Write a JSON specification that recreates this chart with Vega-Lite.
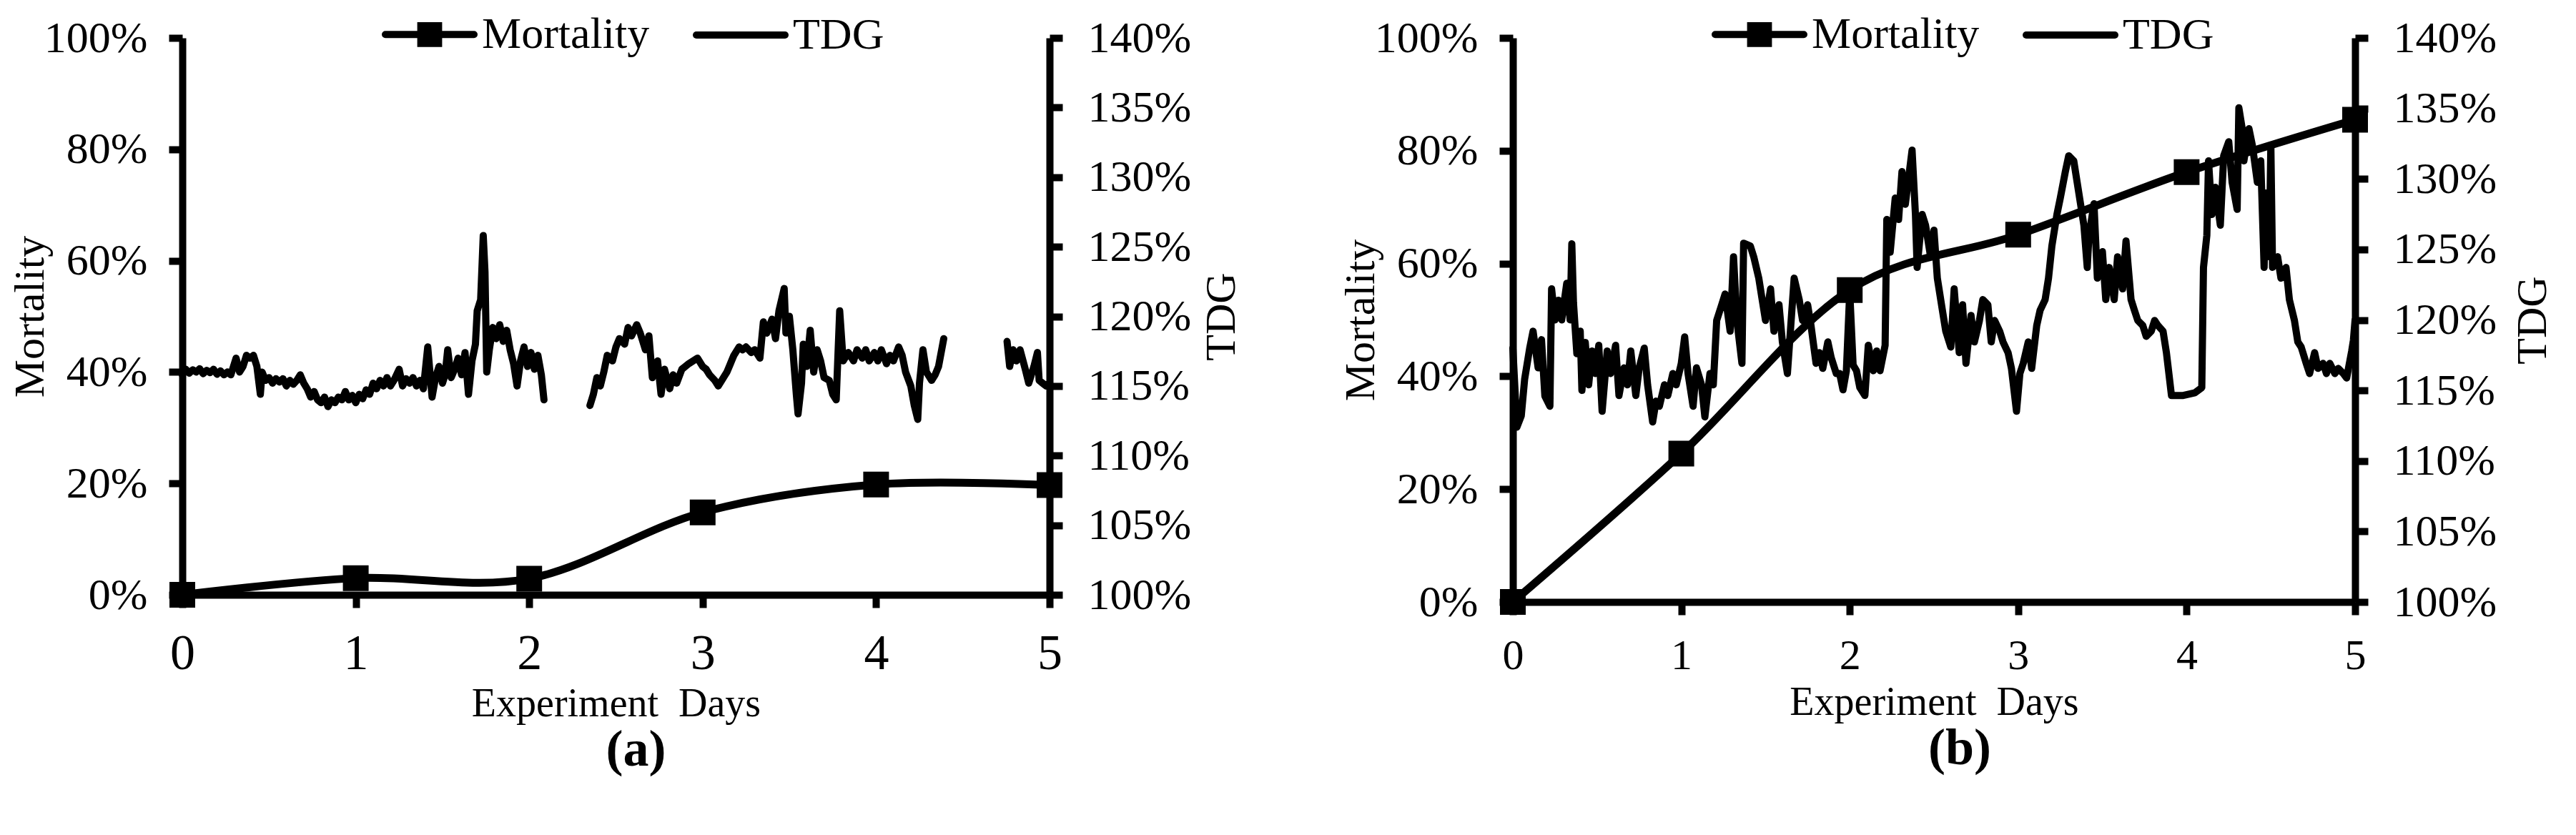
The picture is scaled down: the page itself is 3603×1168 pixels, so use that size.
{
  "$schema": "https://vega.github.io/schema/vega-lite/v6.json",
  "background": "white",
  "padding": {"left": 12, "top": 17, "right": 5, "bottom": 5},
  "bounds": "flush",
  "spacing": 648,
  "config": {
    "view": {"stroke": null},
    "font": "Liberation Serif",
    "axis": {"grid": false, "domainColor": "black", "domainWidth": 10, "tickColor": "black", "tickWidth": 10, "labelColor": "black", "titleColor": "black", "labelFont": "Liberation Serif", "titleFont": "Liberation Serif", "titleFontWeight": "normal", "labelFlush": false, "labelOverlap": false}
  },
  "resolve": {"scale": {"color": "independent"}, "legend": {"color": "independent"}},
  "datasets": {
    "mortA": [
      {"day": 0, "mort": 0}, {"day": 1, "mort": 0.03}, {"day": 2, "mort": 0.029},
      {"day": 3, "mort": 0.148}, {"day": 4, "mort": 0.198}, {"day": 5, "mort": 0.197}
    ],
    "mortB": [
      {"day": 0, "mort": 0}, {"day": 1, "mort": 0.263}, {"day": 2, "mort": 0.553},
      {"day": 3, "mort": 0.651}, {"day": 4, "mort": 0.762}, {"day": 5, "mort": 0.855}
    ],
    "tdgA": [
      {"day":0,"tdg":1.158,"seg":1},{"day":0.02,"tdg":1.162,"seg":1},{"day":0.04,"tdg":1.1592,"seg":1},{"day":0.06,"tdg":1.1616,"seg":1},{"day":0.08,"tdg":1.16,"seg":1},{"day":0.1,"tdg":1.1624,"seg":1},{"day":0.12,"tdg":1.1588,"seg":1},{"day":0.14,"tdg":1.1612,"seg":1},{"day":0.16,"tdg":1.1596,"seg":1},{"day":0.18,"tdg":1.162,"seg":1},{"day":0.2,"tdg":1.1584,"seg":1},{"day":0.22,"tdg":1.1608,"seg":1},{"day":0.24,"tdg":1.158,"seg":1},{"day":0.26,"tdg":1.16,"seg":1},{"day":0.28,"tdg":1.158,"seg":1},{"day":0.31,"tdg":1.17,"seg":1},{"day":0.33,"tdg":1.16,"seg":1},{"day":0.35,"tdg":1.164,"seg":1},{"day":0.37,"tdg":1.172,"seg":1},{"day":0.39,"tdg":1.17,"seg":1},{"day":0.41,"tdg":1.172,"seg":1},{"day":0.43,"tdg":1.164,"seg":1},{"day":0.45,"tdg":1.144,"seg":1},{"day":0.46,"tdg":1.16,"seg":1},{"day":0.48,"tdg":1.154,"seg":1},{"day":0.5,"tdg":1.156,"seg":1},{"day":0.52,"tdg":1.152,"seg":1},{"day":0.54,"tdg":1.1552,"seg":1},{"day":0.56,"tdg":1.1528,"seg":1},{"day":0.58,"tdg":1.1552,"seg":1},{"day":0.6,"tdg":1.15,"seg":1},{"day":0.62,"tdg":1.154,"seg":1},{"day":0.64,"tdg":1.1512,"seg":1},{"day":0.66,"tdg":1.154,"seg":1},{"day":0.68,"tdg":1.158,"seg":1},{"day":0.7,"tdg":1.152,"seg":1},{"day":0.72,"tdg":1.148,"seg":1},{"day":0.74,"tdg":1.142,"seg":1},{"day":0.76,"tdg":1.146,"seg":1},{"day":0.78,"tdg":1.14,"seg":1},{"day":0.8,"tdg":1.138,"seg":1},{"day":0.82,"tdg":1.142,"seg":1},{"day":0.84,"tdg":1.1352,"seg":1},{"day":0.86,"tdg":1.14,"seg":1},{"day":0.88,"tdg":1.138,"seg":1},{"day":0.9,"tdg":1.142,"seg":1},{"day":0.92,"tdg":1.14,"seg":1},{"day":0.94,"tdg":1.146,"seg":1},{"day":0.96,"tdg":1.14,"seg":1},{"day":0.98,"tdg":1.1432,"seg":1},{"day":1,"tdg":1.138,"seg":1},{"day":1.02,"tdg":1.144,"seg":1},{"day":1.04,"tdg":1.1408,"seg":1},{"day":1.06,"tdg":1.1472,"seg":1},{"day":1.08,"tdg":1.144,"seg":1},{"day":1.1,"tdg":1.152,"seg":1},{"day":1.12,"tdg":1.148,"seg":1},{"day":1.14,"tdg":1.154,"seg":1},{"day":1.16,"tdg":1.15,"seg":1},{"day":1.18,"tdg":1.156,"seg":1},{"day":1.2,"tdg":1.15,"seg":1},{"day":1.22,"tdg":1.154,"seg":1},{"day":1.25,"tdg":1.162,"seg":1},{"day":1.27,"tdg":1.15,"seg":1},{"day":1.29,"tdg":1.1552,"seg":1},{"day":1.31,"tdg":1.152,"seg":1},{"day":1.33,"tdg":1.156,"seg":1},{"day":1.35,"tdg":1.15,"seg":1},{"day":1.37,"tdg":1.154,"seg":1},{"day":1.39,"tdg":1.148,"seg":1},{"day":1.415,"tdg":1.178,"seg":1},{"day":1.44,"tdg":1.142,"seg":1},{"day":1.46,"tdg":1.156,"seg":1},{"day":1.48,"tdg":1.164,"seg":1},{"day":1.5,"tdg":1.152,"seg":1},{"day":1.515,"tdg":1.158,"seg":1},{"day":1.53,"tdg":1.176,"seg":1},{"day":1.55,"tdg":1.156,"seg":1},{"day":1.57,"tdg":1.162,"seg":1},{"day":1.59,"tdg":1.17,"seg":1},{"day":1.61,"tdg":1.158,"seg":1},{"day":1.63,"tdg":1.174,"seg":1},{"day":1.65,"tdg":1.144,"seg":1},{"day":1.67,"tdg":1.168,"seg":1},{"day":1.69,"tdg":1.18,"seg":1},{"day":1.7,"tdg":1.204,"seg":1},{"day":1.72,"tdg":1.212,"seg":1},{"day":1.735,"tdg":1.258,"seg":1},{"day":1.745,"tdg":1.232,"seg":1},{"day":1.755,"tdg":1.16,"seg":1},{"day":1.77,"tdg":1.176,"seg":1},{"day":1.79,"tdg":1.192,"seg":1},{"day":1.81,"tdg":1.184,"seg":1},{"day":1.83,"tdg":1.194,"seg":1},{"day":1.85,"tdg":1.182,"seg":1},{"day":1.87,"tdg":1.19,"seg":1},{"day":1.89,"tdg":1.176,"seg":1},{"day":1.91,"tdg":1.166,"seg":1},{"day":1.93,"tdg":1.15,"seg":1},{"day":1.95,"tdg":1.168,"seg":1},{"day":1.97,"tdg":1.178,"seg":1},{"day":1.99,"tdg":1.164,"seg":1},{"day":2.01,"tdg":1.174,"seg":1},{"day":2.03,"tdg":1.162,"seg":1},{"day":2.05,"tdg":1.172,"seg":1},{"day":2.07,"tdg":1.158,"seg":1},{"day":2.085,"tdg":1.14,"seg":1},
      {"day":2.35,"tdg":1.136,"seg":2},{"day":2.37,"tdg":1.144,"seg":2},{"day":2.39,"tdg":1.156,"seg":2},{"day":2.41,"tdg":1.15,"seg":2},{"day":2.43,"tdg":1.16,"seg":2},{"day":2.45,"tdg":1.172,"seg":2},{"day":2.48,"tdg":1.168,"seg":2},{"day":2.5,"tdg":1.178,"seg":2},{"day":2.52,"tdg":1.184,"seg":2},{"day":2.55,"tdg":1.18,"seg":2},{"day":2.57,"tdg":1.192,"seg":2},{"day":2.59,"tdg":1.186,"seg":2},{"day":2.62,"tdg":1.194,"seg":2},{"day":2.64,"tdg":1.188,"seg":2},{"day":2.67,"tdg":1.176,"seg":2},{"day":2.69,"tdg":1.186,"seg":2},{"day":2.71,"tdg":1.156,"seg":2},{"day":2.74,"tdg":1.168,"seg":2},{"day":2.76,"tdg":1.144,"seg":2},{"day":2.78,"tdg":1.162,"seg":2},{"day":2.81,"tdg":1.148,"seg":2},{"day":2.83,"tdg":1.158,"seg":2},{"day":2.85,"tdg":1.152,"seg":2},{"day":2.88,"tdg":1.162,"seg":2},{"day":2.92,"tdg":1.166,"seg":2},{"day":2.97,"tdg":1.17,"seg":2},{"day":3,"tdg":1.164,"seg":2},{"day":3.02,"tdg":1.162,"seg":2},{"day":3.04,"tdg":1.158,"seg":2},{"day":3.07,"tdg":1.154,"seg":2},{"day":3.09,"tdg":1.15,"seg":2},{"day":3.11,"tdg":1.154,"seg":2},{"day":3.14,"tdg":1.16,"seg":2},{"day":3.16,"tdg":1.166,"seg":2},{"day":3.18,"tdg":1.172,"seg":2},{"day":3.21,"tdg":1.178,"seg":2},{"day":3.23,"tdg":1.176,"seg":2},{"day":3.25,"tdg":1.178,"seg":2},{"day":3.28,"tdg":1.174,"seg":2},{"day":3.3,"tdg":1.176,"seg":2},{"day":3.33,"tdg":1.17,"seg":2},{"day":3.35,"tdg":1.196,"seg":2},{"day":3.37,"tdg":1.188,"seg":2},{"day":3.4,"tdg":1.198,"seg":2},{"day":3.42,"tdg":1.184,"seg":2},{"day":3.44,"tdg":1.204,"seg":2},{"day":3.47,"tdg":1.22,"seg":2},{"day":3.48,"tdg":1.188,"seg":2},{"day":3.5,"tdg":1.2,"seg":2},{"day":3.52,"tdg":1.176,"seg":2},{"day":3.54,"tdg":1.144,"seg":2},{"day":3.55,"tdg":1.13,"seg":2},{"day":3.57,"tdg":1.152,"seg":2},{"day":3.58,"tdg":1.18,"seg":2},{"day":3.6,"tdg":1.164,"seg":2},{"day":3.62,"tdg":1.19,"seg":2},{"day":3.64,"tdg":1.16,"seg":2},{"day":3.66,"tdg":1.176,"seg":2},{"day":3.68,"tdg":1.168,"seg":2},{"day":3.7,"tdg":1.156,"seg":2},{"day":3.73,"tdg":1.154,"seg":2},{"day":3.75,"tdg":1.144,"seg":2},{"day":3.77,"tdg":1.14,"seg":2},{"day":3.79,"tdg":1.204,"seg":2},{"day":3.81,"tdg":1.168,"seg":2},{"day":3.84,"tdg":1.174,"seg":2},{"day":3.87,"tdg":1.168,"seg":2},{"day":3.89,"tdg":1.176,"seg":2},{"day":3.92,"tdg":1.17,"seg":2},{"day":3.94,"tdg":1.176,"seg":2},{"day":3.96,"tdg":1.168,"seg":2},{"day":3.99,"tdg":1.174,"seg":2},{"day":4.01,"tdg":1.168,"seg":2},{"day":4.03,"tdg":1.176,"seg":2},{"day":4.06,"tdg":1.166,"seg":2},{"day":4.08,"tdg":1.172,"seg":2},{"day":4.1,"tdg":1.168,"seg":2},{"day":4.13,"tdg":1.178,"seg":2},{"day":4.15,"tdg":1.172,"seg":2},{"day":4.17,"tdg":1.16,"seg":2},{"day":4.2,"tdg":1.15,"seg":2},{"day":4.22,"tdg":1.136,"seg":2},{"day":4.24,"tdg":1.126,"seg":2},{"day":4.25,"tdg":1.152,"seg":2},{"day":4.27,"tdg":1.176,"seg":2},{"day":4.29,"tdg":1.16,"seg":2},{"day":4.32,"tdg":1.154,"seg":2},{"day":4.34,"tdg":1.158,"seg":2},{"day":4.36,"tdg":1.164,"seg":2},{"day":4.39,"tdg":1.184,"seg":2},
      {"day":4.755,"tdg":1.182,"seg":3},{"day":4.77,"tdg":1.164,"seg":3},{"day":4.79,"tdg":1.176,"seg":3},{"day":4.81,"tdg":1.168,"seg":3},{"day":4.83,"tdg":1.176,"seg":3},{"day":4.86,"tdg":1.162,"seg":3},{"day":4.88,"tdg":1.152,"seg":3},{"day":4.91,"tdg":1.164,"seg":3},{"day":4.93,"tdg":1.174,"seg":3},{"day":4.94,"tdg":1.154,"seg":3},{"day":4.96,"tdg":1.152,"seg":3},{"day":4.98,"tdg":1.15,"seg":3},{"day":5,"tdg":1.152,"seg":3}
    ],
    "tdgB": [
      {"day":0,"tdg":1.18},{"day":0.024,"tdg":1.124},{"day":0.05,"tdg":1.132},{"day":0.07,"tdg":1.158},{"day":0.1,"tdg":1.18},{"day":0.12,"tdg":1.192},{"day":0.15,"tdg":1.166},{"day":0.17,"tdg":1.186},{"day":0.19,"tdg":1.146},{"day":0.22,"tdg":1.1388},{"day":0.23,"tdg":1.222},{"day":0.25,"tdg":1.2},{"day":0.27,"tdg":1.214},{"day":0.29,"tdg":1.2},{"day":0.32,"tdg":1.226},{"day":0.34,"tdg":1.2},{"day":0.35,"tdg":1.254},{"day":0.36,"tdg":1.212},{"day":0.38,"tdg":1.176},{"day":0.4,"tdg":1.192},{"day":0.41,"tdg":1.15},{"day":0.43,"tdg":1.184},{"day":0.45,"tdg":1.154},{"day":0.47,"tdg":1.178},{"day":0.49,"tdg":1.162},{"day":0.51,"tdg":1.182},{"day":0.53,"tdg":1.1352},{"day":0.56,"tdg":1.178},{"day":0.58,"tdg":1.162},{"day":0.61,"tdg":1.182},{"day":0.63,"tdg":1.1464},{"day":0.66,"tdg":1.166},{"day":0.68,"tdg":1.154},{"day":0.7,"tdg":1.178},{"day":0.73,"tdg":1.1464},{"day":0.75,"tdg":1.166},{"day":0.78,"tdg":1.18},{"day":0.8,"tdg":1.154},{"day":0.83,"tdg":1.1276},{"day":0.85,"tdg":1.1424},{"day":0.87,"tdg":1.1388},{"day":0.9,"tdg":1.154},{"day":0.92,"tdg":1.1464},{"day":0.95,"tdg":1.162},{"day":0.97,"tdg":1.154},{"day":1,"tdg":1.1692},{"day":1.02,"tdg":1.188},{"day":1.04,"tdg":1.162},{"day":1.07,"tdg":1.1388},{"day":1.09,"tdg":1.166},{"day":1.12,"tdg":1.154},{"day":1.14,"tdg":1.1312},{"day":1.17,"tdg":1.162},{"day":1.19,"tdg":1.154},{"day":1.21,"tdg":1.1996},{"day":1.24,"tdg":1.2108},{"day":1.26,"tdg":1.2184},{"day":1.29,"tdg":1.192},{"day":1.31,"tdg":1.2448},{"day":1.33,"tdg":1.1996},{"day":1.36,"tdg":1.1692},{"day":1.37,"tdg":1.2544},{"day":1.41,"tdg":1.2524},{"day":1.43,"tdg":1.2448},{"day":1.46,"tdg":1.2296},{"day":1.48,"tdg":1.2144},{"day":1.5,"tdg":1.1996},{"day":1.53,"tdg":1.222},{"day":1.55,"tdg":1.192},{"day":1.58,"tdg":1.2108},{"day":1.6,"tdg":1.1844},{"day":1.63,"tdg":1.162},{"day":1.65,"tdg":1.196},{"day":1.67,"tdg":1.2296},{"day":1.7,"tdg":1.2144},{"day":1.72,"tdg":1.1996},{"day":1.75,"tdg":1.2108},{"day":1.77,"tdg":1.196},{"day":1.8,"tdg":1.1692},{"day":1.82,"tdg":1.1768},{"day":1.84,"tdg":1.1656},{"day":1.87,"tdg":1.1844},{"day":1.89,"tdg":1.1732},{"day":1.92,"tdg":1.162},{"day":1.94,"tdg":1.162},{"day":1.96,"tdg":1.1504},{"day":1.98,"tdg":1.164},{"day":2,"tdg":1.22},{"day":2.02,"tdg":1.168},{"day":2.04,"tdg":1.164},{"day":2.06,"tdg":1.152},{"day":2.09,"tdg":1.1464},{"day":2.11,"tdg":1.182},{"day":2.14,"tdg":1.164},{"day":2.16,"tdg":1.178},{"day":2.18,"tdg":1.164},{"day":2.21,"tdg":1.182},{"day":2.22,"tdg":1.2712},{"day":2.24,"tdg":1.248},{"day":2.27,"tdg":1.2864},{"day":2.29,"tdg":1.2712},{"day":2.31,"tdg":1.3052},{"day":2.33,"tdg":1.282},{"day":2.35,"tdg":1.3012},{"day":2.37,"tdg":1.3204},{"day":2.39,"tdg":1.2748},{"day":2.4,"tdg":1.2372},{"day":2.43,"tdg":1.2748},{"day":2.45,"tdg":1.2672},{"day":2.48,"tdg":1.2448},{"day":2.5,"tdg":1.2636},{"day":2.52,"tdg":1.2296},{"day":2.55,"tdg":1.2068},{"day":2.57,"tdg":1.192},{"day":2.6,"tdg":1.1808},{"day":2.62,"tdg":1.222},{"day":2.65,"tdg":1.1768},{"day":2.67,"tdg":1.2108},{"day":2.69,"tdg":1.1692},{"day":2.72,"tdg":1.2032},{"day":2.74,"tdg":1.1844},{"day":2.77,"tdg":1.1996},{"day":2.79,"tdg":1.2144},{"day":2.82,"tdg":1.2108},{"day":2.84,"tdg":1.1844},{"day":2.86,"tdg":1.1996},{"day":2.89,"tdg":1.192},{"day":2.91,"tdg":1.1844},{"day":2.94,"tdg":1.1768},{"day":2.96,"tdg":1.1656},{"day":2.99,"tdg":1.1352},{"day":3.01,"tdg":1.162},{"day":3.03,"tdg":1.1692},{"day":3.06,"tdg":1.1844},{"day":3.08,"tdg":1.1656},{"day":3.11,"tdg":1.196},{"day":3.13,"tdg":1.2068},{"day":3.16,"tdg":1.2144},{"day":3.18,"tdg":1.2296},{"day":3.2,"tdg":1.2524},{"day":3.23,"tdg":1.2748},{"day":3.25,"tdg":1.2864},{"day":3.28,"tdg":1.3052},{"day":3.3,"tdg":1.3164},{"day":3.33,"tdg":1.3128},{"day":3.35,"tdg":1.2976},{"day":3.37,"tdg":1.2824},{"day":3.39,"tdg":1.2672},{"day":3.41,"tdg":1.2372},{"day":3.42,"tdg":1.2596},{"day":3.45,"tdg":1.2824},{"day":3.47,"tdg":1.2296},{"day":3.5,"tdg":1.2484},{"day":3.52,"tdg":1.2144},{"day":3.54,"tdg":1.2372},{"day":3.57,"tdg":1.2144},{"day":3.59,"tdg":1.2448},{"day":3.62,"tdg":1.222},{"day":3.64,"tdg":1.256},{"day":3.67,"tdg":1.2144},{"day":3.69,"tdg":1.2068},{"day":3.71,"tdg":1.1996},{"day":3.74,"tdg":1.196},{"day":3.76,"tdg":1.1884},{"day":3.79,"tdg":1.192},{"day":3.81,"tdg":1.1996},{"day":3.83,"tdg":1.196},{"day":3.86,"tdg":1.192},{"day":3.88,"tdg":1.1768},{"day":3.91,"tdg":1.1464},{"day":3.98,"tdg":1.1464},{"day":4.05,"tdg":1.1484},{"day":4.09,"tdg":1.152},{"day":4.1,"tdg":1.2372},{"day":4.12,"tdg":1.26},{"day":4.13,"tdg":1.3128},{"day":4.15,"tdg":1.2748},{"day":4.17,"tdg":1.294},{"day":4.2,"tdg":1.2672},{"day":4.22,"tdg":1.3164},{"day":4.25,"tdg":1.3264},{"day":4.27,"tdg":1.2976},{"day":4.3,"tdg":1.2784},{"day":4.31,"tdg":1.3504},{"day":4.33,"tdg":1.3356},{"day":4.34,"tdg":1.3128},{"day":4.37,"tdg":1.3356},{"day":4.39,"tdg":1.324},{"day":4.42,"tdg":1.2976},{"day":4.44,"tdg":1.3128},{"day":4.46,"tdg":1.2372},{"day":4.47,"tdg":1.29},{"day":4.49,"tdg":1.2448},{"day":4.5,"tdg":1.324},{"day":4.51,"tdg":1.2372},{"day":4.54,"tdg":1.2448},{"day":4.56,"tdg":1.2296},{"day":4.59,"tdg":1.2372},{"day":4.61,"tdg":1.2144},{"day":4.64,"tdg":1.1996},{"day":4.66,"tdg":1.1844},{"day":4.68,"tdg":1.1808},{"day":4.71,"tdg":1.1692},{"day":4.73,"tdg":1.162},{"day":4.76,"tdg":1.1768},{"day":4.78,"tdg":1.1656},{"day":4.81,"tdg":1.1692},{"day":4.83,"tdg":1.162},{"day":4.85,"tdg":1.1692},{"day":4.88,"tdg":1.162},{"day":4.9,"tdg":1.1656},{"day":4.93,"tdg":1.162},{"day":4.95,"tdg":1.1588},{"day":4.98,"tdg":1.178},{"day":4.99,"tdg":1.1856},{"day":5,"tdg":1.2}
    ]
  },
  "hconcat": [
    {
      "width": 1213,
      "height": 779,
      "title": {"text": "(a)", "orient": "bottom", "frame": "group", "dx": 28, "fontSize": 72, "fontWeight": "bold", "font": "Liberation Serif", "color": "black", "offset": 2},
      "layer": [
        {
          "data": {"name": "tdgA"},
          "mark": {"type": "line", "strokeWidth": 10, "strokeJoin": "round", "strokeCap": "round"},
          "encoding": {
            "x": {"field": "day", "type": "quantitative", "scale": {"domain": [0, 5], "nice": false},
                  "axis": {"values": [0, 1, 2, 3, 4, 5], "format": "d", "title": "Experiment\u00a0 Days", "labelFontSize": 70, "tickSize": 18, "labelPadding": 30, "titleFontSize": 56, "titlePadding": 8}},
            "y": {"field": "tdg", "type": "quantitative", "scale": {"domain": [1, 1.4], "nice": false, "zero": false},
                  "axis": {"orient": "right", "values": [1, 1.05, 1.1, 1.15, 1.2, 1.25, 1.3, 1.35, 1.4], "format": ".0%", "title": "TDG", "titleAngle": 270, "titleBaseline": "top", "labelFontSize": 62, "tickSize": 18, "labelPadding": 35, "titleFontSize": 60, "titlePadding": 14}},
            "detail": {"field": "seg"},
            "color": {"datum": "TDG", "scale": {"domain": ["Mortality", "TDG"], "range": ["black", "black"]},
                      "legend": {"title": null, "orient": "none", "legendX": 315, "legendY": -36, "direction": "horizontal", "padding": 0,
                                 "labelFont": "Liberation Serif", "labelFontSize": 62, "labelColor": "black", "labelLimit": 2000, "labelOffset": 42, "columnPadding": 45,
                                 "symbolSize": 961, "symbolStrokeWidth": 10, "symbolType": "stroke",
                                 "encode": {"symbols": {"update": {"shape": {"signal": "datum.value === 'Mortality' ? 'M-4,0H4M-0.8,-0.8H0.8V0.8H-0.8Z' : 'M-4,0H4'"}, "fill": {"value": "black"}, "stroke": {"value": "black"}, "strokeWidth": {"value": 10}, "strokeCap": {"value": "round"}, "opacity": {"value": 1}}}}}}
          }
        },
        {
          "data": {"name": "mortA"},
          "mark": {"type": "line", "interpolate": "cardinal", "strokeWidth": 11, "strokeCap": "round", "point": {"shape": "square", "size": 1296, "filled": true, "opacity": 1}},
          "encoding": {
            "x": {"field": "day", "type": "quantitative"},
            "y": {"field": "mort", "type": "quantitative", "scale": {"domain": [0, 1], "nice": false},
                  "axis": {"orient": "left", "values": [0, 0.2, 0.4, 0.6, 0.8, 1], "format": ".0%", "title": "Mortality", "labelFontSize": 62, "tickSize": 19, "labelPadding": 30, "titleFontSize": 60, "titlePadding": -12, "titleBaseline": "bottom"}},
            "color": {"datum": "Mortality"}
          }
        }
      ],
      "resolve": {"scale": {"y": "independent"}}
    },
    {
      "width": 1178,
      "height": 789,
      "title": {"text": "(b)", "orient": "bottom", "frame": "group", "dx": 36, "fontSize": 72, "fontWeight": "bold", "font": "Liberation Serif", "color": "black", "offset": 2},
      "layer": [
        {
          "data": {"name": "tdgB"},
          "mark": {"type": "line", "strokeWidth": 10, "strokeJoin": "round", "strokeCap": "round"},
          "encoding": {
            "x": {"field": "day", "type": "quantitative", "scale": {"domain": [0, 5], "nice": false},
                  "axis": {"values": [0, 1, 2, 3, 4, 5], "format": "d", "title": "Experiment\u00a0 Days", "labelFontSize": 60, "tickSize": 18, "labelPadding": 28, "titleFontSize": 56, "titlePadding": 8}},
            "y": {"field": "tdg", "type": "quantitative", "scale": {"domain": [1, 1.4], "nice": false, "zero": false},
                  "axis": {"orient": "right", "values": [1, 1.05, 1.1, 1.15, 1.2, 1.25, 1.3, 1.35, 1.4], "format": ".0%", "title": "TDG", "titleAngle": 270, "titleBaseline": "top", "labelFontSize": 62, "tickSize": 18, "labelPadding": 35, "titleFontSize": 60, "titlePadding": 22}},
            "color": {"datum": "TDG", "scale": {"domain": ["Mortality", "TDG"], "range": ["black", "black"]},
                      "legend": {"title": null, "orient": "none", "legendX": 314, "legendY": -36, "direction": "horizontal", "padding": 0,
                                 "labelFont": "Liberation Serif", "labelFontSize": 62, "labelColor": "black", "labelLimit": 2000, "labelOffset": 42, "columnPadding": 45,
                                 "symbolSize": 961, "symbolStrokeWidth": 10, "symbolType": "stroke",
                                 "encode": {"symbols": {"update": {"shape": {"signal": "datum.value === 'Mortality' ? 'M-4,0H4M-0.8,-0.8H0.8V0.8H-0.8Z' : 'M-4,0H4'"}, "fill": {"value": "black"}, "stroke": {"value": "black"}, "strokeWidth": {"value": 10}, "strokeCap": {"value": "round"}, "opacity": {"value": 1}}}}}}
          }
        },
        {
          "data": {"name": "mortB"},
          "mark": {"type": "line", "interpolate": "cardinal", "strokeWidth": 11, "strokeCap": "round", "point": {"shape": "square", "size": 1296, "filled": true, "opacity": 1}},
          "encoding": {
            "x": {"field": "day", "type": "quantitative"},
            "y": {"field": "mort", "type": "quantitative", "scale": {"domain": [0, 1], "nice": false},
                  "axis": {"orient": "left", "values": [0, 0.2, 0.4, 0.6, 0.8, 1], "format": ".0%", "title": "Mortality", "labelFontSize": 62, "tickSize": 19, "labelPadding": 30, "titleFontSize": 60, "titlePadding": -12, "titleBaseline": "bottom"}},
            "color": {"datum": "Mortality"}
          }
        }
      ],
      "resolve": {"scale": {"y": "independent"}}
    }
  ]
}
